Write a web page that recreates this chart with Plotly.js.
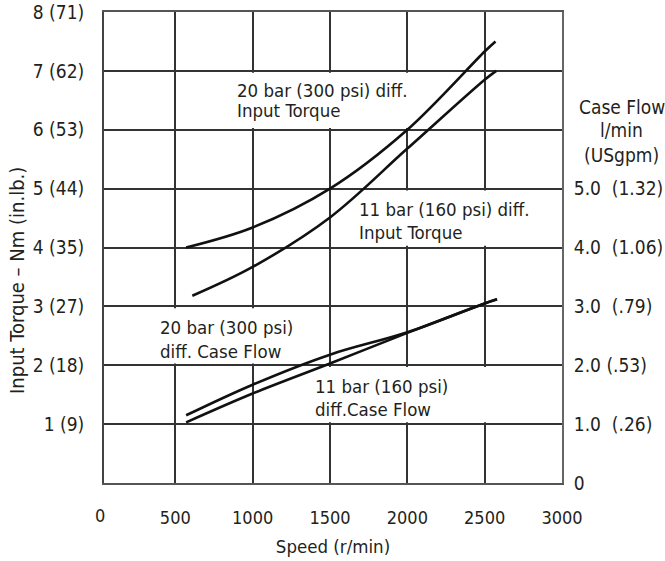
<!DOCTYPE html>
<html>
<head>
<meta charset="utf-8">
<script src="https://cdn.plot.ly/plotly-3.0.1.min.js"></script>
<style>
html,body{margin:0;padding:0;background:#fff;}
#chart{width:665px;height:561px;}
svg text{font-stretch:condensed !important;}
</style>
</head>
<body>
<div id="chart"></div>
<script>
// ---- data ----
const speedTorque20 = [570, 1000, 1500, 2000, 2500, 2570];
const torque20      = [4.0, 4.34, 5.0, 6.0, 7.33, 7.5];
const speedTorque11 = [610, 1000, 1500, 2000, 2500, 2575];
const torque11      = [3.18, 3.67, 4.51, 5.68, 6.85, 7.0];
const speedFlow     = [570, 1000, 1500, 2000, 2500, 2580];
const flow20        = [1.15, 1.67, 2.18, 2.56, 3.05, 3.12];
const flow11        = [1.03, 1.52, 2.03, 2.55, 3.05, 3.12];

const speedTicks     = [500, 1000, 1500, 2000, 2500, 3000];
const speedTickText  = ['500', '1000', '1500', '2000', '2500', '3000'];
const torqueTicks    = [1, 2, 3, 4, 5, 6, 7, 8];
const torqueTickText = ['1 (9)', '2 (18)', '3 (27)', '4 (35)', '5 (44)', '6 (53)', '7 (62)', '8 (71)'];
const flowTicks      = [0, 1, 2, 3, 4, 5];
const flowTickText   = ['0', '1.0\u00a0\u00a0(.26)', '2.0 (.53)', '3.0\u00a0\u00a0(.79)', '4.0\u00a0\u00a0(1.06)', '5.0\u00a0\u00a0(1.32)'];

const FONT = '"DejaVu Sans", sans-serif';
const TXT = '#231f20';

const lineStyle = {color: '#111', width: 2.6, shape: 'spline', smoothing: 1};
const traces = [
  {x: speedTorque20, y: torque20, mode: 'lines', line: lineStyle, name: '20 bar torque', xaxis: 'x', yaxis: 'y'},
  {x: speedTorque11, y: torque11, mode: 'lines', line: lineStyle, name: '11 bar torque', xaxis: 'x', yaxis: 'y'},
  {x: speedFlow, y: flow20, mode: 'lines', line: lineStyle, name: '20 bar flow', xaxis: 'x', yaxis: 'y2'},
  {x: speedFlow, y: flow11, mode: 'lines', line: lineStyle, name: '11 bar flow', xaxis: 'x', yaxis: 'y2'}
];

function whiteBox(x0, x1, y0, y1) {
  return {type: 'rect', xref: 'x', yref: 'y', x0: x0, x1: x1, y0: y0, y1: y1,
          fillcolor: '#ffffff', line: {width: 0}, layer: 'between'};
}
function label(text, x, y) {
  return {text: text, x: x, y: y, xref: 'x', yref: 'y', showarrow: false,
          xanchor: 'left', yanchor: 'middle', font: {family: FONT, size: 18.5, color: TXT}};
}
function paperText(text, x, y, extra) {
  return Object.assign({text: text, x: x, y: y, xref: 'paper', yref: 'paper', showarrow: false,
          xanchor: 'center', yanchor: 'middle', font: {family: FONT, size: 19, color: TXT}}, extra || {});
}

const layout = {
  width: 665, height: 561,
  margin: {l: 104, r: 103, t: 12, b: 78},
  paper_bgcolor: '#fff', plot_bgcolor: '#fff',
  showlegend: false,
  font: {family: FONT, size: 19, color: TXT},
  xaxis: {
    range: [39, 3000], tickvals: speedTicks, ticktext: speedTickText,
    showgrid: true, gridcolor: '#333', gridwidth: 2,
    showline: true, linecolor: '#555', linewidth: 2, mirror: true,
    ticks: '', ticklabelstandoff: 17, zeroline: false,
    tickfont: {family: FONT, size: 18, color: TXT},
    title: {text: 'Speed (r/min)', font: {family: FONT, size: 18.5, color: TXT}, standoff: 13}
  },
  yaxis: {
    range: [0, 8], tickvals: torqueTicks, ticktext: torqueTickText,
    showgrid: true, gridcolor: '#333', gridwidth: 2,
    showline: true, linecolor: '#444', linewidth: 2,
    ticks: '', ticklabelstandoff: 14, zeroline: false,
    tickfont: {family: FONT, size: 19, color: TXT}
  },
  yaxis2: {
    range: [0, 8], tickvals: flowTicks, ticktext: flowTickText,
    overlaying: 'y', side: 'right', anchor: 'x',
    showgrid: false, showline: true, linecolor: '#666', linewidth: 2,
    ticks: '', ticklabelstandoff: 6, zeroline: false,
    tickfont: {family: FONT, size: 19, color: TXT}
  },
  shapes: [
    whiteBox(800, 2040, 6.03, 6.97),
    whiteBox(1600, 2995, 4.03, 4.97),
    whiteBox(45, 1300, 2.03, 2.97),
    whiteBox(1300, 2995, 1.03, 1.97)
  ],
  annotations: [
    label('20 bar (300 psi) diff.', 886, 6.66),
    label('Input Torque', 886, 6.32),
    label('11 bar (160 psi) diff.', 1674, 4.65),
    label('Input Torque', 1674, 4.25),
    label('20 bar (300 psi)', 388, 2.64),
    label('diff. Case Flow', 388, 2.24),
    label('11 bar (160 psi)', 1390, 1.64),
    label('diff.Case Flow', 1390, 1.25),
    paperText('0', -0.0087, -0.070, {font: {family: FONT, size: 18, color: TXT}}),
    paperText('Case Flow', 1.131, 0.798),
    paperText('l/min', 1.131, 0.749),
    paperText('(USgpm)', 1.131, 0.696),
    paperText('Input Torque \u2013 Nm (in.lb.)', -0.19, 0.431, {textangle: -90, font: {family: FONT, size: 20, color: TXT}})
  ]
};

Plotly.newPlot('chart', traces, layout, {staticPlot: true, displayModeBar: false});
</script>
</body>
</html>
